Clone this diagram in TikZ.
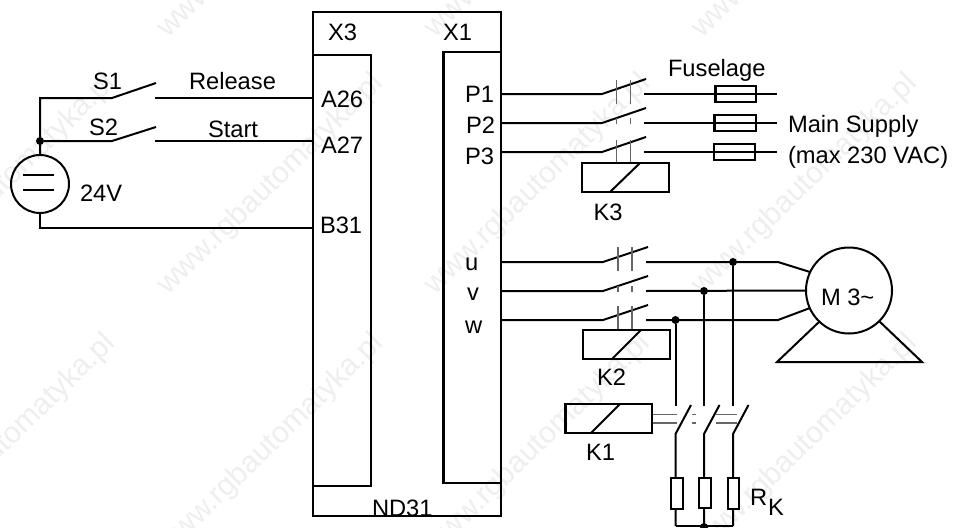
\documentclass[tikz,border=0pt]{standalone}
\usepackage{fontspec}
\setmainfont{Liberation Sans}
\definecolor{wm}{HTML}{EEEEEE}
\definecolor{link}{HTML}{666666}
\tikzset{
  wire/.style={line width=2pt,line cap=butt,line join=miter},
  boxline/.style={line width=2.1pt,draw=black},
  linkage/.style={line width=1.1pt,draw=link},
  lbl/.style={anchor=base west,inner sep=0pt,outer sep=0pt,font=\fontsize{23.7pt}{24pt}\selectfont},
  wmark/.style={text=wm,rotate=44.3,inner sep=0pt,font=\fontsize{30pt}{30pt}\selectfont},
  jdot/.style={circle,fill=black,inner sep=0pt,minimum size=8pt},
}
\begin{document}
\begin{tikzpicture}[x=1pt,y=-1pt]
\useasboundingbox (0,0) rectangle (955,527);
\clip (0,0) rectangle (955,527);
% faint watermark of the source picture
\foreach \cx in {3,271,538,805}
  \foreach \cy in {-72,185,445}
    \node[wmark,name=wm\cx\cy] at (\cx,\cy) {www.rgbautomatyka.pl};
% controller
\node[boxline,inner sep=0pt,minimum width=188pt,minimum height=504pt,name=nd] at (407,264) {};
\node[boxline,inner sep=0pt,minimum width=58pt,minimum height=431pt,name=xthree] at (342,270.5) {};
\node[boxline,inner sep=0pt,minimum width=57.5pt,minimum height=431pt,name=xone] at (472.25,267.5) {};
\node[lbl] (lx3) at (328,41) {X3};
\node[lbl] (lx1) at (443,41) {X1};
\node[lbl] (lnd) at (372,516) {ND31};
\node[lbl] (la26) at (321,107.5) {A26};
\node[lbl] (la27) at (321,153) {A27};
\node[lbl] (lb31) at (320,233.5) {B31};
\node[lbl] (lp1) at (465,102) {P1};
\node[lbl] (lp2) at (466,133) {P2};
\node[lbl] (lp3) at (465,164) {P3};
\node[lbl] (lu) at (465,270) {u};
\node[lbl] (lv) at (467,300) {v};
\node[lbl] (lw) at (465,333) {w};
% 24 V supply and the switches
\node[draw,circle,line width=2pt,inner sep=0pt,minimum size=58pt,name=src] at (40,184) {};
\node[jdot,name=j0] at (40,141) {};
\coordinate (a26) at (313,98);
\coordinate (a27) at (313,141);
\coordinate (b31) at (313,228);
\coordinate (s1a) at (112,98);
\coordinate (s1b) at (156,83);
\coordinate (s1c) at (155,98);
\coordinate (s2a) at (112,141);
\coordinate (s2b) at (156,127);
\coordinate (s2c) at (155,141);
\coordinate (tl) at (40,98);
\coordinate (bl) at (40,228);
\draw[wire] (src.north) -- (tl) -- (s1a) -- (s1b);
\draw[wire] (s1c) -- (a26);
\draw[wire] (j0) -- (s2a) -- (s2b);
\draw[wire] (s2c) -- (a27);
\draw[wire] (src.south) -- (bl) -- (b31);
\coordinate (pl1a) at (23,175); \coordinate (pl1b) at (54,175);
\coordinate (pl2a) at (23,190); \coordinate (pl2b) at (54,190);
\draw[wire] (pl1a) -- (pl1b);
\draw[wire] (pl2a) -- (pl2b);
\node[lbl] (ls1) at (93,89.5) {S1};
\node[lbl] (ls2) at (89,135) {S2};
\node[lbl] (lrel) at (189,89) {Release};
\node[lbl] (lst) at (208,137) {Start};
\node[lbl] (l24) at (80,201) {24V};
% K3 contactor and fuses
\foreach \n/\y/\fa/\fb in {1/94/715.5/756,2/123/714.5/756,3/152/714/755}{
  \coordinate (pw\n a) at (501,\y);
  \coordinate (pw\n b) at (602,\y);
  \coordinate (pw\n c) at (646,\y-15);
  \coordinate (pw\n d) at (644,\y);
  \coordinate (pw\n e) at (777,\y);
  \draw[wire] (pw\n a) -- (pw\n b) -- (pw\n c);
  \node[boxline,fill=white,inner sep=0pt,minimum width=\fb pt-\fa pt,minimum height=16pt,name=fuse\n] at ({(\fa+\fb)/2},\y) {};
  \draw[wire] (pw\n d) -- (pw\n e);
}
\foreach \i/\x in {l/616.5,r/630.5}{
  \coordinate (ka\i) at (\x,80); \coordinate (kb\i) at (\x,104);
  \coordinate (kc\i) at (\x,118); \coordinate (kd\i) at (\x,124);
  \coordinate (ke\i) at (\x,140); \coordinate (kf\i) at (\x,163);
  \draw[linkage] (ka\i) -- (kb\i) (kc\i) -- (kd\i) (ke\i) -- (kf\i);
}
\node[boxline,inner sep=0pt,minimum width=87pt,minimum height=29pt,name=kthree] at (625.5,177.5) {};
\coordinate (k3a) at (610,192); \coordinate (k3b) at (640,163);
\draw[wire] (k3a) -- (k3b);
\node[lbl] (lk3) at (593.5,220) {K3};
\node[lbl] (lfu) at (668,76.5) {Fuselage};
\node[lbl] (lms) at (788,132) {Main Supply};
\node[lbl] (lmx) at (788,163) {(max 230 VAC)};
% K2 contactor and motor
\node[draw,circle,line width=2pt,inner sep=0pt,minimum size=86pt,name=mot] at (849,290.5) {};
\foreach \n/\y in {1/262,2/291,3/320}{
  \coordinate (mw\n a) at (501,\y);
  \coordinate (mw\n b) at (603,\y);
  \coordinate (mw\n c) at (648,\y-15);
  \coordinate (mw\n d) at (646,\y);
  \coordinate (mw\n e) at (778,\y);
  \draw[wire] (mw\n a) -- (mw\n b) -- (mw\n c);
}
\coordinate (m1) at (810,272);
\coordinate (m3) at (810,308);
\draw[wire] (mw1d) -- (mw1e) -- (m1);
\draw[wire] (mw2d) -- (mot.west);
\draw[wire] (mw3d) -- (mw3e) -- (m3);
\foreach \i/\x in {l/618,r/632}{
  \coordinate (qa\i) at (\x,247); \coordinate (qb\i) at (\x,271);
  \coordinate (qc\i) at (\x,286); \coordinate (qd\i) at (\x,292);
  \coordinate (qe\i) at (\x,306); \coordinate (qf\i) at (\x,330);
  \draw[linkage] (qa\i) -- (qb\i) (qc\i) -- (qd\i) (qe\i) -- (qf\i);
}
\node[boxline,inner sep=0pt,minimum width=87pt,minimum height=29pt,name=ktwo] at (626.5,344.5) {};
\coordinate (k2a) at (612,359); \coordinate (k2b) at (641,330);
\draw[wire] (k2a) -- (k2b);
\node[lbl] (lk2) at (597,385) {K2};
\coordinate (t1) at (820,321); \coordinate (t2) at (777,362);
\coordinate (t3) at (922,362); \coordinate (t4) at (879,321);
\draw[wire] (t1) -- (t2) -- (t3) -- (t4);
\node[lbl] (lm) at (821,305) {M 3\char"7E};
% K1 contactor and resistors
\node[jdot,name=ju] at (733,262) {};
\node[jdot,name=jv] at (704,291) {};
\node[jdot,name=jw] at (675.5,320) {};
\foreach \n/\x/\ra/\rb/\rc/\rd in {w/675.5/671/683/478/509,v/704/699/711/478/508,u/733/728/739/478/509}{
  \coordinate (v\n a) at (\x,406);
  \coordinate (v\n b) at (\x,434);
  \coordinate (v\n c) at (\x+15.5,405);
  \coordinate (v\n d) at (\x,526);
  \draw[wire] (j\n) -- (v\n a);
  \draw[wire] (v\n c) -- (v\n b) -- (v\n d);
  \node[boxline,fill=white,inner sep=0pt,minimum width=\rb pt-\ra pt,minimum height=\rd pt-\rc pt,name=res\n] at ({(\ra+\rb)/2},{(\rc+\rd)/2}) {};
}
\draw[wire] (vwd) -- (vud);
\node[jdot,name=jb] at (704,527) {};
\node[boxline,inner sep=0pt,minimum width=86.5pt,minimum height=29pt,name=kone] at (608.75,418.5) {};
\coordinate (k1a) at (591,433); \coordinate (k1b) at (620,404);
\draw[wire] (k1a) -- (k1b);
\foreach \i/\y in {t/414.5,b/423}{
  \coordinate (ra\i) at (653,\y); \coordinate (rb\i) at (677,\y);
  \coordinate (rc\i) at (692,\y); \coordinate (rd\i) at (696,\y);
  \coordinate (re\i) at (716,\y); \coordinate (rf\i) at (737,\y);
  \draw[linkage] (ra\i) -- (rb\i) (rc\i) -- (rd\i) (re\i) -- (rf\i);
}
\node[lbl] (lk1) at (586,460) {K1};
\node[lbl] (lr) at (750,505) {R};
\node[lbl] (lk) at (768,515) {K};
\end{tikzpicture}
\end{document}
